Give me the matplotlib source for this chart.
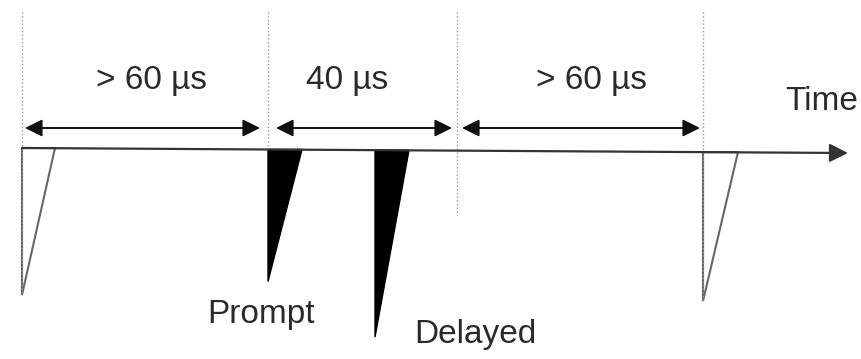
import matplotlib.pyplot as plt
from matplotlib.patches import Polygon

plt.rcParams['font.family'] = ['Liberation Sans', 'DejaVu Sans']

# window boundaries along the time axis (pixel units of the drawing)
bounds = [22, 268, 457, 703]
span_labels = ['> 60 µs', '40 µs', '> 60 µs']
span_label_x = [152, 347, 592]

# pulses: start x, width, depth below baseline, filled?
pulse_x = [22, 268, 375, 703]
pulse_w = [33, 34, 34, 35]
pulse_depth = [147, 132, 187, 149]
pulse_fill = [False, True, True, False]
pulse_names = ['', 'Prompt', 'Delayed', '']
name_pos = [(0, 0), (261, 315), (475, 334), (0, 0)]

fig = plt.figure(figsize=(8.62, 3.59), dpi=100)
ax = fig.add_axes([0, 0, 1, 1])
ax.set_xlim(0, 862)
ax.set_ylim(359, 0)
ax.axis('off')

def base_y(x):
    # time axis is drawn very slightly tilted
    return 148 + (x - 22) * 5 / 826

# dotted window markers
bottoms = [295, 148, 215, 302]
for x, b in zip(bounds, bottoms):
    ax.plot([x, x], [12, b], color='#999999', lw=1, ls=':')

# time axis
ax.annotate('', xy=(848, base_y(848)), xytext=(22, base_y(22)),
            arrowprops=dict(arrowstyle='-|>', color='#333333', lw=1.6,
                            mutation_scale=28, shrinkA=0, shrinkB=0))
ax.text(822, 102, 'Time', fontsize=24, ha='center', va='center', color='#2a2a2a')

# window widths
gaps = [(3, -8), (8, -5), (5, -3)]
for i, lab in enumerate(span_labels):
    x0 = bounds[i] + gaps[i][0]
    x1 = bounds[i + 1] + gaps[i][1]
    ax.annotate('', xy=(x1, 128), xytext=(x0, 128),
                arrowprops=dict(arrowstyle='<|-|>', color='#111111', lw=1.4,
                                mutation_scale=26, shrinkA=0, shrinkB=0))
    ax.text(span_label_x[i], 81, lab, fontsize=24, ha='center',
            va='center', color='#2a2a2a')

# pulses
for x, w, d, f, name, pos in zip(pulse_x, pulse_w, pulse_depth, pulse_fill,
                                 pulse_names, name_pos):
    y0 = base_y(x)
    pts = [(x, y0), (x + w, y0), (x, y0 + d)]
    if f:
        ax.add_patch(Polygon(pts, closed=True, facecolor='black',
                             edgecolor='black', lw=1))
    else:
        ax.add_patch(Polygon(pts, closed=True, fill=False,
                             edgecolor='#666666', lw=1.5))
    if name:
        ax.text(pos[0], pos[1], name, fontsize=24, ha='center', va='center',
                color='#2a2a2a')

fig.savefig('out.png', dpi=100)
